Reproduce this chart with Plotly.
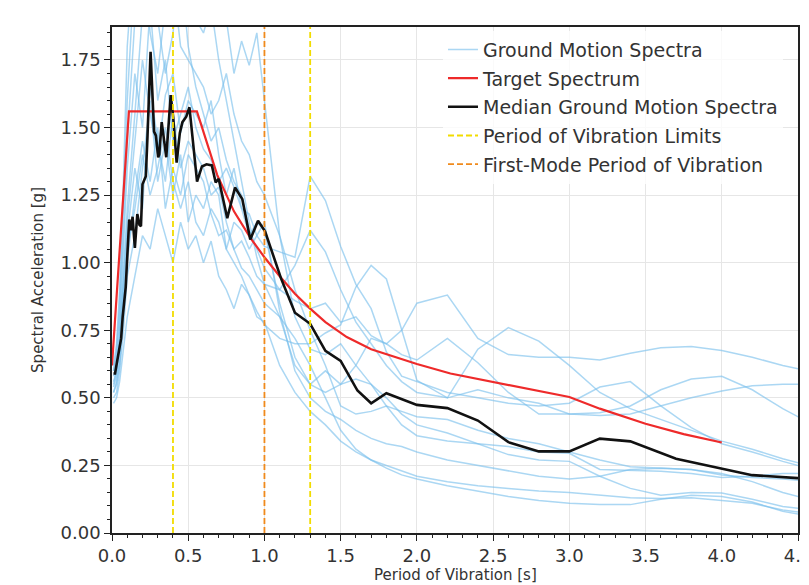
import plotly.graph_objects as go

# ---------------- data ----------------
P_GM = [0.01, 0.03, 0.05, 0.075, 0.1, 0.15, 0.2, 0.25, 0.3, 0.35, 0.4, 0.45, 0.5, 0.55,
        0.6, 0.65, 0.7, 0.75, 0.8, 0.85, 0.9, 0.95, 1.0,
        1.1, 1.2, 1.3, 1.4, 1.5, 1.6, 1.7, 1.8, 1.9, 2.0,
        2.2, 2.4, 2.6, 2.8, 3.0, 3.2, 3.4, 3.6, 3.8, 4.0, 4.2, 4.4, 4.6]

GM_1 = [0.55, 0.60, 0.72, 0.95, 1.20, 1.55, 1.95, 2.30, 1.90, 1.70, 1.85, 2.10, 1.80, 1.65,
        1.55, 1.45, 1.50, 1.38, 1.30, 1.25, 1.12, 1.05, 0.98,
        0.90, 0.86, 0.83, 0.85, 0.78, 0.80, 0.73, 0.70, 0.75, 0.85,
        0.88, 0.72, 0.66, 0.65, 0.65, 0.64, 0.665, 0.685, 0.69, 0.675, 0.65, 0.62, 0.595]
GM_2 = [0.50, 0.52, 0.60, 0.75, 0.95, 1.10, 1.35, 1.60, 1.30, 1.45, 1.25, 1.40, 1.15, 1.25,
        1.20, 1.30, 1.25, 1.05, 1.00, 0.95, 0.88, 0.82, 0.77,
        0.72, 0.70, 0.70, 0.74, 0.77, 0.91, 0.99, 0.94, 0.75, 0.565,
        0.50, 0.68, 0.76, 0.71, 0.62, 0.52, 0.46, 0.42, 0.38, 0.34, 0.31, 0.275, 0.245]
GM_3 = [0.60, 0.68, 0.85, 1.20, 1.60, 2.10, 2.40, 2.00, 2.50, 2.20, 1.95, 2.30, 2.10, 1.90,
        1.85, 1.95, 1.75, 1.60, 1.45, 1.30, 1.15, 1.02, 0.92,
        0.80, 0.62, 0.55, 0.60, 0.55, 0.62, 0.72, 0.70, 0.66, 0.64,
        0.72, 0.63, 0.52, 0.44, 0.44, 0.445, 0.47, 0.53, 0.57, 0.58, 0.53, 0.46, 0.40]
GM_4 = [0.58, 0.62, 0.75, 1.05, 1.35, 1.70, 1.50, 1.95, 1.60, 1.75, 1.45, 1.55, 1.65, 1.50,
        1.42, 1.38, 1.30, 1.35, 1.28, 1.20, 1.18, 1.10, 1.06,
        1.04, 1.02, 1.32, 1.23, 1.06, 0.92, 0.83, 0.67, 0.58, 0.56,
        0.52, 0.50, 0.48, 0.47, 0.48, 0.54, 0.56, 0.47, 0.39, 0.33, 0.30, 0.265, 0.235]
GM_5 = [0.52, 0.55, 0.62, 0.80, 1.00, 1.25, 1.45, 1.30, 1.50, 1.20, 1.35, 1.25, 1.40, 1.35,
        1.30, 1.18, 1.10, 1.12, 1.05, 1.08, 1.02, 0.95, 0.92,
        0.90, 0.99, 1.12, 1.04, 0.90, 0.78, 0.70, 0.62, 0.56, 0.52,
        0.50, 0.53, 0.50, 0.48, 0.44, 0.435, 0.44, 0.47, 0.50, 0.525, 0.545, 0.55, 0.55]
GM_6 = [0.62, 0.70, 0.90, 1.30, 1.80, 2.20, 1.90, 2.40, 2.10, 2.60, 2.30, 2.00, 2.35, 2.20,
        2.10, 1.95, 2.05, 1.90, 1.70, 1.82, 1.73, 1.85, 1.60,
        1.10, 0.80, 0.68, 0.66, 0.70, 0.62, 0.55, 0.47, 0.40, 0.36,
        0.34, 0.33, 0.32, 0.30, 0.295, 0.235, 0.232, 0.228, 0.22, 0.205, 0.21, 0.22, 0.22]
GM_7 = [0.56, 0.60, 0.70, 0.92, 1.15, 1.45, 1.75, 1.55, 1.40, 1.62, 1.70, 1.48, 1.60, 1.55,
        1.50, 1.60, 1.40, 1.25, 1.35, 1.20, 1.10, 1.15, 1.12,
        0.85, 0.65, 0.55, 0.52, 0.55, 0.57, 0.55, 0.50, 0.44, 0.40,
        0.37, 0.33, 0.29, 0.27, 0.265, 0.21, 0.165, 0.14, 0.15, 0.148, 0.125, 0.098, 0.085]
GM_8 = [0.54, 0.58, 0.68, 0.88, 1.10, 1.35, 1.20, 1.65, 1.45, 1.30, 1.55, 1.35, 1.45, 1.40,
        1.35, 1.25, 1.28, 1.15, 1.05, 0.98, 0.95, 0.90, 0.85,
        0.80, 0.72, 0.62, 0.50, 0.38, 0.31, 0.27, 0.25, 0.23, 0.21,
        0.19, 0.175, 0.165, 0.155, 0.15, 0.14, 0.13, 0.128, 0.13, 0.12, 0.11, 0.085, 0.07]
GM_9 = [0.48, 0.50, 0.56, 0.68, 0.80, 0.95, 1.10, 1.05, 1.20, 1.10, 1.00, 1.15, 1.05, 1.10,
        1.00, 1.08, 0.95, 0.90, 0.83, 0.92, 0.88, 0.80, 0.78,
        0.62, 0.52, 0.45, 0.40, 0.34, 0.30, 0.27, 0.24, 0.215, 0.20,
        0.175, 0.155, 0.135, 0.12, 0.11, 0.105, 0.105, 0.125, 0.14, 0.135, 0.115, 0.08, 0.06]
GM_10 = [0.60, 0.66, 0.80, 1.10, 1.45, 1.90, 2.20, 1.85, 1.70, 1.95, 2.05, 1.80, 1.75, 1.70,
         1.65, 1.55, 1.60, 1.70, 1.55, 1.45, 1.40, 1.30, 1.25,
         1.10, 0.90, 0.75, 0.62, 0.47, 0.44, 0.45, 0.47, 0.45, 0.43,
         0.42, 0.38, 0.35, 0.33, 0.30, 0.27, 0.245, 0.24, 0.235, 0.215, 0.205, 0.20, 0.19]
GM_11 = [0.52, 0.56, 0.64, 0.85, 1.05, 1.20, 1.40, 1.25, 1.35, 1.50, 1.30, 1.20, 1.30, 1.15,
         1.10, 1.20, 1.15, 1.05, 1.15, 1.12, 1.05, 1.10, 1.15,
         0.82, 0.60, 0.50, 0.45, 0.42, 0.38, 0.35, 0.33, 0.32, 0.30,
         0.27, 0.25, 0.23, 0.21, 0.20, 0.21, 0.235, 0.24, 0.235, 0.22, 0.19, 0.15, 0.12]

TARGET_T = [0.0, 0.111, 0.557, 0.69, 0.8, 0.91, 1.0, 1.1, 1.2, 1.3, 1.4, 1.54, 1.7, 1.89, 2.0,
            2.22, 2.55, 2.87, 3.0, 3.2, 3.5, 3.75, 4.0]
TARGET_SA = [0.62, 1.56, 1.56, 1.325, 1.19, 1.09, 1.02, 0.95, 0.885, 0.83, 0.78, 0.725, 0.68,
             0.645, 0.625, 0.59, 0.553, 0.515, 0.503, 0.46, 0.404, 0.366, 0.335]

MEDIAN_T = [0.01, 0.02, 0.035, 0.048, 0.06, 0.07, 0.08, 0.09, 0.1, 0.113, 0.125, 0.135, 0.15,
            0.166, 0.18, 0.19, 0.2, 0.222, 0.233, 0.253, 0.276, 0.288, 0.303, 0.31, 0.326, 0.34,
            0.356, 0.37, 0.385, 0.401, 0.424, 0.445, 0.462, 0.487, 0.508, 0.558, 0.59, 0.62,
            0.655, 0.68, 0.70, 0.756, 0.807, 0.855, 0.907, 0.958, 1.004, 1.11, 1.2, 1.3, 1.4,
            1.5, 1.61, 1.7, 1.8, 2.0, 2.2, 2.4, 2.6, 2.8, 3.0, 3.2, 3.4, 3.7, 4.0, 4.2, 4.5]
MEDIAN_SA = [0.59, 0.59, 0.64, 0.69, 0.72, 0.80, 0.86, 0.91, 1.02, 1.16, 1.12, 1.17, 1.055,
             1.18, 1.14, 1.135, 1.29, 1.32, 1.47, 1.78, 1.485, 1.47, 1.39, 1.40, 1.52, 1.46,
             1.39, 1.50, 1.62, 1.54, 1.37, 1.48, 1.52, 1.54, 1.575, 1.30, 1.356, 1.364,
             1.36, 1.297, 1.31, 1.165, 1.278, 1.235, 1.086, 1.155, 1.116, 0.94, 0.815, 0.774,
             0.674, 0.637, 0.527, 0.48, 0.517, 0.474, 0.462, 0.416, 0.336, 0.302, 0.302, 0.349,
             0.339, 0.275, 0.238, 0.214, 0.203]

LIMIT_PERIODS = [0.4, 1.3]
FIRST_MODE_PERIOD = [1.0]

X_TICKS = [0.0, 0.5, 1.0, 1.5, 2.0, 2.5, 3.0, 3.5, 4.0, 4.5]
Y_TICKS = [0.0, 0.25, 0.5, 0.75, 1.0, 1.25, 1.5, 1.75]
Y_MAX = 1.872
X_MAX = 4.5

# ---------------- figure ----------------
fig = go.Figure()

gm_lines = [GM_1, GM_2, GM_3, GM_4, GM_5, GM_6, GM_7, GM_8, GM_9, GM_10, GM_11]
for i, vals in enumerate(gm_lines):
    fig.add_trace(go.Scatter(
        x=P_GM, y=vals, mode="lines",
        line=dict(color="rgba(120,190,235,0.62)", width=1.5),
        name="Ground Motion Spectra", legendgroup="gm",
        showlegend=(i == 0), hoverinfo="skip"))

fig.add_trace(go.Scatter(
    x=TARGET_T, y=TARGET_SA, mode="lines",
    line=dict(color="#ee2a2a", width=2.2),
    name="Target Spectrum", legendgroup="target"))

fig.add_trace(go.Scatter(
    x=MEDIAN_T, y=MEDIAN_SA, mode="lines",
    line=dict(color="#111111", width=2.6),
    name="Median Ground Motion Spectra", legendgroup="median"))

for i, t in enumerate(LIMIT_PERIODS):
    fig.add_trace(go.Scatter(
        x=[t, t], y=[0, Y_MAX], mode="lines",
        line=dict(color="#f2dc00", width=1.8, dash="6px,3px"),
        name="Period of Vibration Limits", legendgroup="limits",
        showlegend=(i == 0)))

for t in FIRST_MODE_PERIOD:
    fig.add_trace(go.Scatter(
        x=[t, t], y=[0, Y_MAX], mode="lines",
        line=dict(color="#f08a1c", width=1.8, dash="6px,3px"),
        name="First-Mode Period of Vibration", legendgroup="firstmode"))

axis_common = dict(
    showline=True, linecolor="#222222", linewidth=1.5, mirror=True,
    ticks="outside", ticklen=6, tickwidth=1.2, tickcolor="#222222",
    showgrid=True, gridcolor="#e6e6e6", gridwidth=1,
    zeroline=False, automargin=False, ticklabeloverflow="allow",
    tickfont=dict(family="DejaVu Sans", size=18, color="#333333"),
)

fig.update_xaxes(range=[0, X_MAX], tickvals=X_TICKS, tickformat=".1f",
                 minor=dict(ticks="outside", ticklen=3, dtick=0.1, tickcolor="#222222",
                            showgrid=False),
                 **axis_common)
fig.update_yaxes(range=[0, Y_MAX], tickvals=Y_TICKS, tickformat=".2f",
                 minor=dict(ticks="outside", ticklen=3, dtick=0.05, tickcolor="#222222",
                            showgrid=False),
                 **axis_common)

# page body has an 8px margin, so the figure is 8px smaller than the window
fig.update_layout(
    width=801, height=577,
    margin=dict(l=104, r=11, t=19, b=52, autoexpand=False),
    paper_bgcolor="white", plot_bgcolor="white",
    font=dict(family="DejaVu Sans", color="#333333"),
    legend=dict(
        x=0.4825, y=0.993, xanchor="left", yanchor="top",
        bgcolor="rgba(255,255,255,0.8)", borderwidth=0,
        font=dict(family="DejaVu Sans", size=19, color="#333333"),
        tracegroupgap=1, traceorder="grouped",
    ),
    annotations=[
        dict(text="Period of Vibration [s]", xref="paper", yref="paper",
             x=0.5, y=-0.083, xanchor="center", yanchor="middle", showarrow=False,
             font=dict(family="DejaVu Sans", size=15, color="#333333")),
        dict(text="Spectral Acceleration [g]", xref="paper", yref="paper",
             x=-0.108, y=0.5, xanchor="center", yanchor="middle", showarrow=False,
             textangle=-90,
             font=dict(family="DejaVu Sans", size=15, color="#333333")),
    ],
)

fig.write_html("out.html")
